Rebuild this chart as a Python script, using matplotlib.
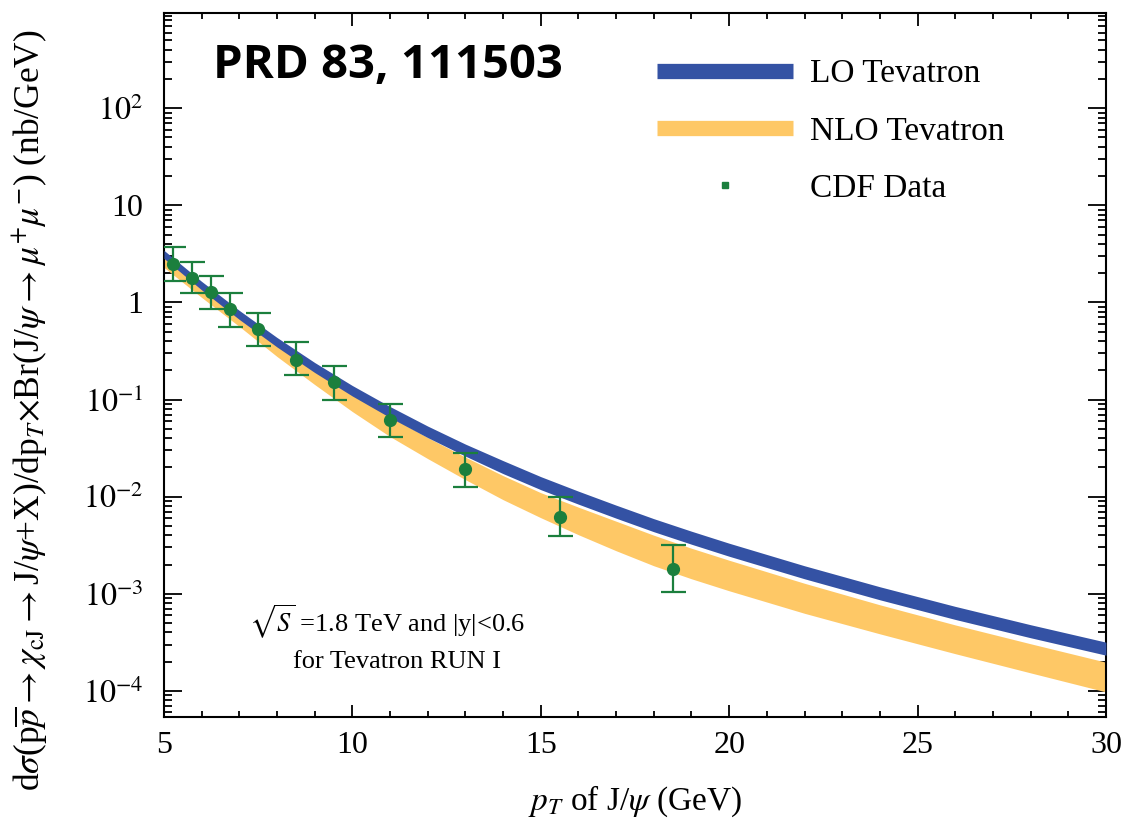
import numpy as np
import matplotlib
matplotlib.use("Agg")
import matplotlib.pyplot as plt
from matplotlib.lines import Line2D
from matplotlib.ticker import FixedLocator, FixedFormatter

plt.rcParams['font.family'] = ['Liberation Serif', 'DejaVu Serif']
plt.rcParams['mathtext.fontset'] = 'stix'

# band edges (nb/GeV)
pt_band = [5, 6, 7, 8, 9, 10, 11, 12, 13, 14, 15, 16, 17, 18, 19, 20, 22, 24, 26, 28, 30]
lo_top = [3.436, 1.646, 0.827, 0.4356, 0.2406, 0.1394, 0.08469, 0.05331, 0.03477, 0.02350,
          0.01608, 0.01139, 0.008178, 0.005934, 0.004408, 0.003316, 0.001943, 0.001181,
          0.0007418, 0.0004802, 0.0003177]
lo_bot = [2.842, 1.346, 0.6679, 0.3477, 0.1899, 0.1087, 0.06524, 0.04057, 0.02615, 0.01727,
          0.01181, 0.008370, 0.006005, 0.004356, 0.003238, 0.002435, 0.001427, 0.0008672,
          0.0005444, 0.0003526, 0.0002333]
nlo_top = [3.052, 1.445, 0.7174, 0.3734, 0.1991, 0.1140, 0.06679, 0.04057, 0.02554, 0.01646,
           0.01099, 0.007795, 0.005590, 0.004009, 0.002944, 0.002215, 0.001283, 0.0007701,
           0.0004779, 0.0003058, 0.0001976]
nlo_bot = [2.296, 1.126, 0.5657, 0.2775, 0.1427, 0.07520, 0.04155, 0.02465, 0.01497, 0.009313,
           0.006075, 0.004057, 0.002775, 0.001943, 0.001427, 0.001074, 0.0006295, 0.0003869,
           0.0002417, 0.0001533, 0.00009766]

# CDF data points
cdf_pt = [5.25, 5.75, 6.25, 6.75, 7.5, 8.5, 9.5, 11.0, 13.0, 15.5, 18.5]
cdf_y = [2.46, 1.77, 1.27, 0.85, 0.527, 0.258, 0.150, 0.0622, 0.0194, 0.00622, 0.00180]
cdf_hi = [3.69, 2.58, 1.85, 1.24, 0.77, 0.387, 0.219, 0.091, 0.0283, 0.0100, 0.00315]
cdf_lo = [1.65, 1.24, 0.85, 0.565, 0.352, 0.177, 0.100, 0.0415, 0.0127, 0.00395, 0.00104]

ytick_vals = [1e-4, 1e-3, 1e-2, 1e-1, 1, 10, 100]
ytick_labels = [r'$10^{-4}$', r'$10^{-3}$', r'$10^{-2}$', r'$10^{-1}$', '1', '10', r'$10^{2}$']

blue = '#3452a4'
orange = '#fec866'
green = '#1b7f3d'

fig = plt.figure(figsize=(11.26, 8.18), dpi=100)
ax = fig.add_axes([0.1456, 0.1235, 0.8366, 0.8605])

ax.fill_between(pt_band, nlo_bot, nlo_top, color=orange, lw=0, zorder=2)
ax.fill_between(pt_band, lo_bot, lo_top, color=blue, lw=0, zorder=3)

y = np.array(cdf_y)
yerr = [y - np.array(cdf_lo), np.array(cdf_hi) - y]
ax.errorbar(cdf_pt, cdf_y, yerr=yerr, fmt='o', color=green, ms=8.5, elinewidth=1.6,
            capsize=9, capthick=1.6, zorder=4)

ax.set_yscale('log')
ax.set_xlim(5, 30)
ax.set_ylim(5.39e-5, 953)

ax.set_xticks([5, 10, 15, 20, 25, 30])
ax.set_xticks(np.arange(5, 31, 1), minor=True)
ax.yaxis.set_major_locator(FixedLocator(ytick_vals))
ax.yaxis.set_major_formatter(FixedFormatter(ytick_labels))

ax.tick_params(axis='both', which='both', direction='in', top=True, right=True, width=1.3)
ax.tick_params(axis='x', which='major', length=9, labelsize=23, pad=10)
ax.tick_params(axis='x', which='minor', length=4.5)
ax.tick_params(axis='y', which='major', length=13, labelsize=23, pad=15)
ax.tick_params(axis='y', which='minor', length=6)
for s in ax.spines.values():
    s.set_linewidth(1.5)

ax.set_xlabel(r'$p_T$ of J/$\psi$ (GeV)', fontsize=24, labelpad=17)
fig.text(0.027, 0.499, r'd$\sigma$(p$\overline{p}$$\rightarrow$$\chi_{\rm cJ}$$\rightarrow$J/$\psi$+X)/dp$_T$$\times$Br(J/$\psi$$\rightarrow$$\mu^{+}\mu^{-}$) (nb/GeV)',
         rotation=90, ha='center', va='center', fontsize=25.5)

ax.text(0.052, 0.925, 'PRD 83, 111503', transform=ax.transAxes, fontsize=34,
        fontweight='bold', family=['Open Sans', 'DejaVu Sans'], va='center', ha='left')

ax.text(0.09, 0.135, r'$\sqrt{S}$ =1.8 TeV and |y|<0.6', transform=ax.transAxes,
        fontsize=19, ha='left', va='center')
ax.text(0.137, 0.078, 'for Tevatron RUN I', transform=ax.transAxes,
        fontsize=19, ha='left', va='center')

handles = [Line2D([], [], color=blue, lw=11, solid_capstyle='butt'),
           Line2D([], [], color=orange, lw=11, solid_capstyle='butt'),
           Line2D([], [], color=green, marker='s', ms=5, ls='none')]
ax.legend(handles, ['LO Tevatron', 'NLO Tevatron', 'CDF Data'], loc='upper left',
          bbox_to_anchor=(0.523, 0.935), frameon=False, fontsize=24, handlelength=4.1,
          handletextpad=0.5, labelspacing=0.8, borderpad=0, borderaxespad=0)

fig.savefig('out.png', dpi=100, facecolor='white')
